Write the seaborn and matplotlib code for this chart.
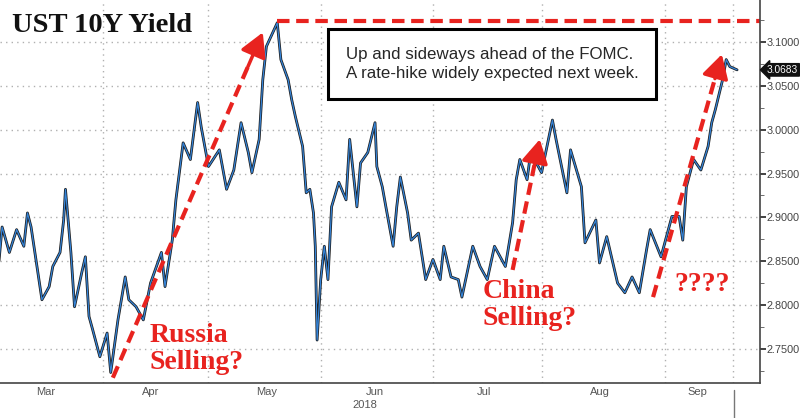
import pandas as pd
import matplotlib.pyplot as plt
import matplotlib.ticker as mticker
from matplotlib.lines import Line2D
import seaborn as sns

# UST 10Y yield
dates = [
    "2018-03-04", "2018-03-05", "2018-03-07", "2018-03-09", "2018-03-11", "2018-03-12",
    "2018-03-13", "2018-03-16", "2018-03-18", "2018-03-19", "2018-03-21", "2018-03-22",
    "2018-03-22 12:00", "2018-03-24", "2018-03-25", "2018-03-27", "2018-03-28", "2018-03-29",
    "2018-03-30", "2018-04-01", "2018-04-03", "2018-04-04", "2018-04-06", "2018-04-08",
    "2018-04-09", "2018-04-11", "2018-04-13", "2018-04-15", "2018-04-18", "2018-04-19",
    "2018-04-21", "2018-04-22", "2018-04-24", "2018-04-26", "2018-04-28", "2018-04-29",
    "2018-05-01", "2018-05-04", "2018-05-06", "2018-05-08", "2018-05-10", "2018-05-12",
    "2018-05-13", "2018-05-15", "2018-05-16", "2018-05-17", "2018-05-20", "2018-05-21",
    "2018-05-23", "2018-05-24", "2018-05-25", "2018-05-27", "2018-05-28", "2018-05-29",
    "2018-05-30", "2018-05-30 12:00", "2018-05-31", "2018-06-01", "2018-06-02", "2018-06-03",
    "2018-06-04", "2018-06-06", "2018-06-08", "2018-06-09", "2018-06-11", "2018-06-12",
    "2018-06-14", "2018-06-16", "2018-06-16 12:00", "2018-06-18", "2018-06-19", "2018-06-21",
    "2018-06-22", "2018-06-23", "2018-06-25", "2018-06-26", "2018-06-28", "2018-06-30",
    "2018-07-02", "2018-07-04", "2018-07-05", "2018-07-07", "2018-07-09", "2018-07-10",
    "2018-07-13", "2018-07-15", "2018-07-17", "2018-07-19", "2018-07-22", "2018-07-24",
    "2018-07-25", "2018-07-26", "2018-07-28", "2018-07-29", "2018-08-01", "2018-08-04",
    "2018-08-05", "2018-08-08", "2018-08-09", "2018-08-12", "2018-08-13", "2018-08-16",
    "2018-08-17", "2018-08-19", "2018-08-22", "2018-08-24", "2018-08-26", "2018-08-28",
    "2018-08-30", "2018-08-31", "2018-09-03", "2018-09-06", "2018-09-08", "2018-09-09",
    "2018-09-10", "2018-09-12", "2018-09-14", "2018-09-16", "2018-09-17", "2018-09-18",
    "2018-09-20", "2018-09-21", "2018-09-22", "2018-09-24",
]
yields = [
    2.844, 2.889, 2.860, 2.886, 2.867, 2.905,
    2.889, 2.806, 2.821, 2.844, 2.860, 2.897,
    2.932, 2.860, 2.798, 2.837, 2.855, 2.787,
    2.772, 2.741, 2.768, 2.723, 2.783, 2.832,
    2.806, 2.798, 2.783, 2.825, 2.860, 2.821,
    2.874, 2.920, 2.985, 2.966, 3.031, 3.003,
    2.958, 2.977, 2.932, 2.954, 3.008, 2.974,
    2.951, 2.989, 3.057, 3.095, 3.122, 3.080,
    3.057, 3.034, 3.015, 2.981, 2.928, 2.932,
    2.905, 2.867, 2.760, 2.829, 2.867, 2.829,
    2.912, 2.940, 2.920, 2.989, 2.912, 2.962,
    2.974, 3.008, 2.958, 2.935, 2.912, 2.867,
    2.912, 2.946, 2.905, 2.874, 2.882, 2.829,
    2.852, 2.829, 2.867, 2.832, 2.829, 2.809,
    2.867, 2.844, 2.829, 2.867, 2.844, 2.894,
    2.943, 2.966, 2.943, 2.974, 2.951, 3.011,
    2.989, 2.928, 2.977, 2.935, 2.871, 2.897,
    2.848, 2.878, 2.825, 2.814, 2.832, 2.814,
    2.863, 2.886, 2.855, 2.901, 2.901, 2.874,
    2.935, 2.966, 2.954, 2.981, 3.008, 3.023,
    3.057, 3.080, 3.072, 3.0683,
]

last_value = 3.0683
high_line = 3.124

month_ticks = ["2018-04-02", "2018-05-01", "2018-06-01", "2018-07-02", "2018-08-01",
               "2018-09-04", "2018-09-23"]
month_label_pos = ["2018-03-17", "2018-04-15", "2018-05-17", "2018-06-16", "2018-07-16",
                   "2018-08-17", "2018-09-13"]
month_labels = ["Mar", "Apr", "May", "Jun", "Jul", "Aug", "Sep"]

# red dashed arrows (start, tip)
arrows = [
    (("2018-04-04 14:00", 2.717), ("2018-05-16", 3.111)),
    (("2018-07-24", 2.840), ("2018-07-31 12:00", 2.989)),
    (("2018-08-31 19:00", 2.809), ("2018-09-19 19:00", 3.086)),
]
notes = [
    ("Russia\nSelling?", "2018-04-14 20:00", 2.750),
    ("China\nSelling?", "2018-07-15 19:00", 2.800),
    ("????", "2018-09-06 19:00", 2.823),
]

RED = "#e8231f"
BLUE = "#3584d8"

df = pd.DataFrame({"date": pd.to_datetime(dates, format="mixed"), "yield": yields})

sns.set_style("white")
plt.rcParams["font.family"] = ["Liberation Sans", "DejaVu Sans"]

fig = plt.figure(figsize=(8, 4.18), dpi=100)
ax = fig.add_axes([0, 35 / 418, 760 / 800, 383 / 418])

sns.lineplot(data=df, x="date", y="yield", ax=ax, color="#1c1c1c", lw=2.0)
sns.lineplot(data=df, x="date", y="yield", ax=ax, color=BLUE, lw=0.9)

ax.set_xlim(pd.Timestamp("2018-03-04 10:00"), pd.Timestamp("2018-09-30 08:00"))
ax.set_ylim(2.711, 3.148)
ax.set_xlabel("")
ax.set_ylabel("")

# y axis on the right
ax.yaxis.tick_right()
ax.yaxis.set_major_locator(mticker.MultipleLocator(0.05))
ax.yaxis.set_minor_locator(mticker.MultipleLocator(0.025))
ax.yaxis.set_major_formatter(mticker.FormatStrFormatter("%.4f"))
ax.tick_params(axis="y", which="major", length=4, width=1.2, color="#222",
               labelsize=7.8, labelcolor="#444", pad=1)
ax.tick_params(axis="y", which="minor", length=3, color="#555")

# x axis: ticks at month starts, labels centred in months
ax.set_xticks(pd.to_datetime(month_ticks))
ax.set_xticklabels([])
ax.set_xticks(pd.to_datetime(month_label_pos), minor=True)
ax.set_xticklabels(month_labels, minor=True)
ax.tick_params(axis="x", which="major", length=4, color="#333", direction="inout")
ax.tick_params(axis="x", which="minor", length=0, labelsize=8, labelcolor="#555", pad=3)

ax.grid(True, which="major", color="#b0b0b0", linestyle=(0, (1, 3)), lw=1)
for side in ["top", "left"]:
    ax.spines[side].set_visible(False)
for side in ["bottom", "right"]:
    ax.spines[side].set_color("#444")
    ax.spines[side].set_linewidth(1.2)

# red annotations: dashed shafts with solid heads
dash = (0, (3, 1.6))
ax.plot([pd.Timestamp("2018-05-20"), pd.Timestamp("2018-09-30 08:00")], [high_line, high_line],
        color=RED, lw=3, linestyle=dash, solid_capstyle="butt")
for (s, t) in arrows:
    s_x, s_y = pd.Timestamp(s[0]), s[1]
    t_x, t_y = pd.Timestamp(t[0]), t[1]
    frac = 0.9 if (t_y - s_y) > 0.2 else 0.8
    m_x = s_x + (t_x - s_x) * frac
    m_y = s_y + (t_y - s_y) * frac
    ax.plot([s_x, m_x], [s_y, m_y], color=RED, lw=3, linestyle=dash, dash_capstyle="butt")
    ax.annotate("", xy=(t_x, t_y), xytext=(m_x, m_y),
                arrowprops=dict(arrowstyle="-|>,head_length=0.8,head_width=0.45", color=RED,
                                lw=2.5, mutation_scale=18, shrinkA=0, shrinkB=0))
for (txt, x, y) in notes:
    ax.text(pd.Timestamp(x), y, txt, color=RED, fontsize=20, fontweight="bold",
            family="Liberation Serif", ha="left", va="center", linespacing=1.1)

# last price tag
ax.annotate(f"{last_value:.4f}", xy=(1.0, last_value), xycoords=("axes fraction", "data"),
            xytext=(5, 0), textcoords="offset points", ha="left", va="center",
            fontsize=7.3, color="white",
            bbox=dict(boxstyle="larrow,pad=0.12", fc="#111", ec="#111"), annotation_clip=False)

fig.text(12 / 800, 1 - 32 / 418, "UST 10Y Yield", fontsize=20.5, fontweight="bold",
         family="Liberation Serif", color="#111", va="baseline")
fig.text(492 / 800, 1 - 64 / 418,
         "Up and sideways ahead of the FOMC.\nA rate-hike widely expected next week.",
         fontsize=12.2, ha="center", va="center", multialignment="left", linespacing=1.3,
         bbox=dict(boxstyle="square,pad=1.05", fc="white", ec="black", lw=2.2))
fig.text(365 / 800, 1 - 405 / 418, "2018", fontsize=8, color="#555", ha="center", va="center")
fig.add_artist(Line2D([734 / 800, 734 / 800], [0, 28 / 418], color="#777", lw=1))

fig.savefig("out.png", dpi=100)
